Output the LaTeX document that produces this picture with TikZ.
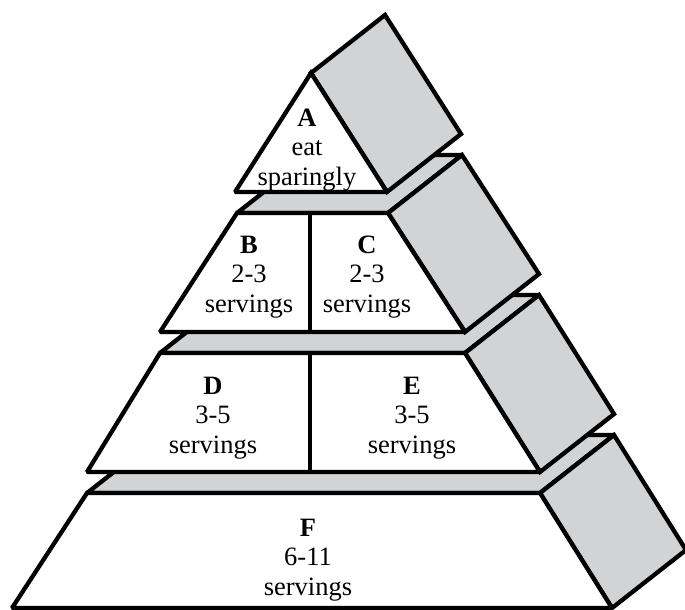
\documentclass[tikz,border=0pt]{standalone}
\usepackage{fontspec}
\setmainfont{Liberation Serif}
\definecolor{facegray}{RGB}{210,211,213}
\begin{document}
\begin{tikzpicture}[x=1pt,y=-1pt,
  edge/.style={draw=black,line width=4.3pt,line join=miter,miter limit=2},
  front/.style={edge,fill=white},
  shade/.style={edge,fill=facegray},
  lbl/.style={align=center,font=\fontsize{26.5}{29.5}\selectfont,inner sep=0pt}]
\useasboundingbox (0,0) rectangle (685,610);
% ---- tier F ----
\draw[shade] (87,493) -- (161,435) -- (614,435) -- (540,493) -- cycle;
\draw[shade] (540,493) -- (614,435) -- (686,550) -- (612,608) -- cycle;
\draw[front] (12,608) -- (87,493) -- (540,493) -- (612,608) -- cycle;
% ---- tier D/E ----
\draw[shade] (160,353) -- (234,295) -- (539,295) -- (465,353) -- cycle;
\draw[shade] (465,353) -- (539,295) -- (614,414) -- (540,472) -- cycle;
\draw[front] (87,472) -- (160,353) -- (465,353) -- (540,472) -- cycle;
\draw[edge] (310,353) -- (310,472);
% ---- tier B/C ----
\draw[shade] (237,213) -- (311,155) -- (462,155) -- (388,213) -- cycle;
\draw[shade] (388,213) -- (462,155) -- (539,274) -- (465,332) -- cycle;
\draw[front] (160,332) -- (237,213) -- (388,213) -- (465,332) -- cycle;
\draw[edge] (310,213) -- (310,332);
% ---- tier A ----
\draw[shade] (311,73) -- (385,15) -- (461,134) -- (387,192) -- cycle;
\draw[front] (235,192) -- (311,73) -- (387,192) -- cycle;
% ---- labels ----
\node[lbl] (a) at (307,150) {\textbf{A}\\eat\\sparingly};
\node[lbl] (b) at (249,277) {\textbf{B}\\2-3\\servings};
\node[lbl] (c) at (367,277) {\textbf{C}\\2-3\\servings};
\node[lbl] (d) at (213,418) {\textbf{D}\\3-5\\servings};
\node[lbl] (e) at (412,418) {\textbf{E}\\3-5\\servings};
\node[lbl] (f) at (308,560) {\textbf{F}\\6-11\\servings};
\end{tikzpicture}
\end{document}
